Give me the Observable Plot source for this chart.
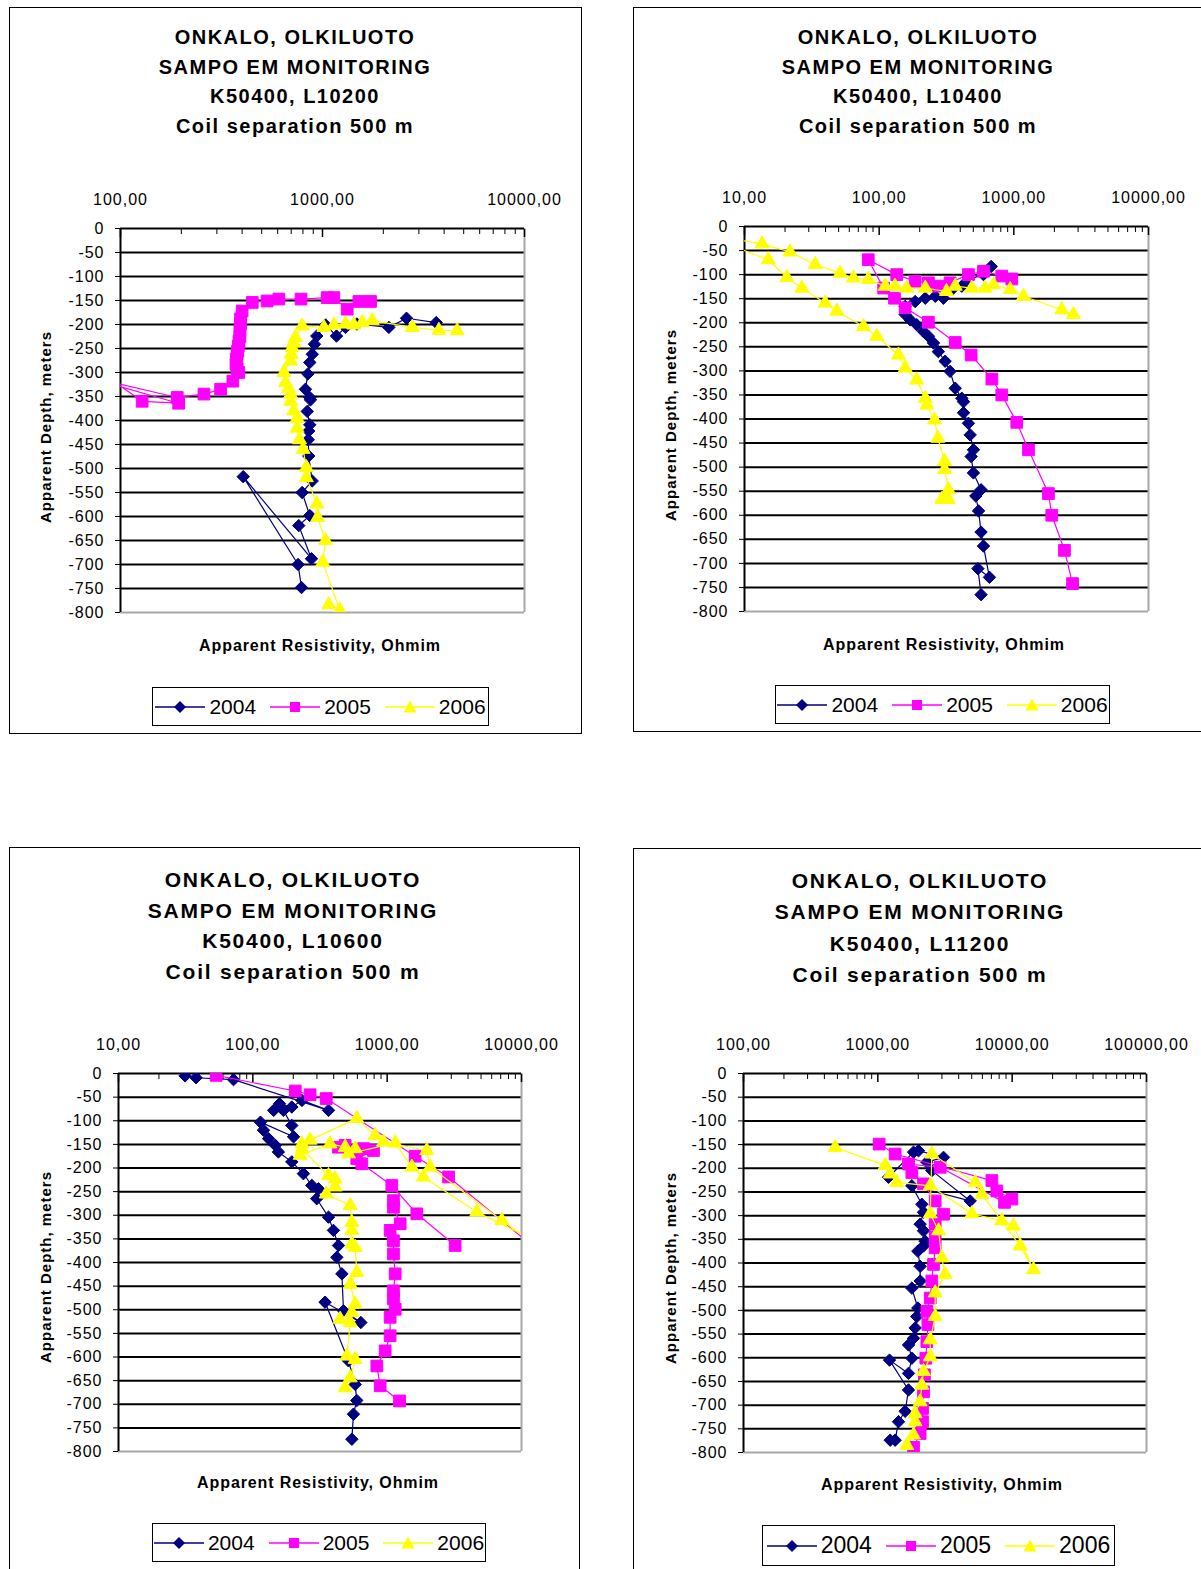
<!DOCTYPE html>
<html><head><meta charset="utf-8">
<script src="https://cdn.jsdelivr.net/npm/d3@7"></script>
<script src="https://cdn.jsdelivr.net/npm/@observablehq/plot@0.6"></script>
<style>
html,body{margin:0;padding:0;background:#fff;}
body{width:1201px;height:1569px;position:relative;overflow:hidden;font-family:"Liberation Sans",Arial,sans-serif;color:#000;}
.box{position:absolute;border:1.5px solid #000;box-sizing:border-box;}
.title{position:absolute;transform:translateX(-50%);text-align:center;font-weight:bold;white-space:nowrap;}
.xlab{position:absolute;transform:translate(-50%,-50%);font-weight:bold;font-size:16px;letter-spacing:0.9px;white-space:nowrap;}
.ylab{position:absolute;transform:translate(-50%,-50%) rotate(-90deg);font-weight:bold;font-size:15px;letter-spacing:1px;white-space:nowrap;}
.legend{position:absolute;border:1.5px solid #000;box-sizing:border-box;display:flex;align-items:center;justify-content:center;gap:2px;background:#fff;}
.legend span{margin-right:12px;}
.plot{position:absolute;}
.plot svg text{letter-spacing:1px;}
</style>
</head><body>
<script>
// ---------- DATA ----------
const YEARS = ["2004", "2005", "2006"];
const TITLE_LINE1 = "ONKALO, OLKILUOTO";
const TITLE_LINE2 = "SAMPO EM MONITORING";
const TITLE_LINE4 = "Coil separation 500 m";
const PROFILES = ["K50400, L10200", "K50400, L10400", "K50400, L10600", "K50400, L11200"];
const X_TITLE = "Apparent Resistivity, Ohmim";
const Y_TITLE = "Apparent Depth, meters";
const Y_TICKS = [0,-50,-100,-150,-200,-250,-300,-350,-400,-450,-500,-550,-600,-650,-700,-750,-800];
const X_DOMAINS = [[100,10000],[10,10000],[10,10000],[100,100000]];
const X_TICK_LABELS = [
  ["100,00","1000,00","10000,00"],
  ["10,00","100,00","1000,00","10000,00"],
  ["10,00","100,00","1000,00","10000,00"],
  ["100,00","1000,00","10000,00","100000,00"]
];

// [resistivity, depth]; null = break in the line
const L10200_2004 = [[3656,-196],[2606,-187],[2130,-206],[1480,-199],[1300,-206],[1173,-224],[1035,-201],[937,-224],[912,-241],[890,-262],[865,-279],[846,-303],[823,-335],[865,-352],[872,-357],[840,-381],[865,-409],[855,-422],[850,-440],[855,-474],[889,-526],[793,-550],[865,-598],[763,-619],[882,-688],[405,-517],[757,-700],[787,-748]];
const L10200_2005 = [[1729,-152],[1514,-152],[1325,-168],[1138,-144],[1055,-144],[783,-147],[608,-147],[532,-151],[449,-154],[400,-172],[393,-188],[393,-199],[390,-212],[390,-225],[386,-235],[383,-245],[380,-255],[378,-262],[375,-272],[373,-283],[378,-292],[385,-300],[360,-318],[313,-335],[259,-345],[191,-352],[55,-299],[194,-364],[128,-360],[55,-252]];
const L10200_2006 = [[4640,-213],[3767,-212],[2780,-206],[1762,-192],[1572,-196],[1429,-201],[1300,-199],[1138,-201],[1016,-206],[793,-203],[734,-227],[720,-238],[707,-248],[700,-262],[695,-276],[644,-300],[656,-321],[680,-333],[695,-345],[695,-360],[720,-380],[749,-395],[749,-416],[770,-440],[802,-460],[832,-498],[832,-519],[940,-574],[946,-602],[1035,-650],[1003,-695],[1218,-795],[1074,-784]];

const L10400_2004 = [[679,-83],[595,-100],[460,-110],[411,-124],[347,-131],[300,-149],[261,-145],[220,-149],[185,-156],[156,-166],[156,-183],[170,-194],[190,-204],[213,-218],[232,-228],[253,-242],[275,-260],[309,-280],[336,-301],[367,-336],[411,-357],[423,-364],[423,-387],[460,-409],[474,-433],[501,-464],[482,-478],[501,-512],[571,-547],[522,-560],[547,-591],[571,-635],[595,-664],[659,-729],[541,-711],[571,-765]];
const L10400_2005 = [[966,-109],[814,-103],[595,-93],[460,-100],[336,-117],[275,-124],[232,-117],[185,-114],[135,-100],[83,-69],[108,-128],[130,-149],[156,-169],[232,-199],[367,-241],[482,-267],[687,-317],[814,-350],[1052,-407],[1285,-464],[1807,-555],[1914,-600],[2377,-673],[2729,-742]];
const L10400_2006 = [[327,-567],[292,-567],[327,-547],[306,-505],[306,-488],[273,-440],[258,-402],[226,-371],[220,-357],[190,-319],[156,-294],[139,-267],[96,-228],[76.5,-208],[48.5,-176],[39.7,-159],[26.7,-128],[20.6,-106],[15,-69],[7,-33],[7,-23],[13.5,-36],[21.8,-53],[33.5,-79],[51.3,-97],[64.4,-107],[83,-110],[111,-124],[131,-124],[160,-128],[220,-128],[316,-135],[367,-124],[487,-128],[612,-128],[706,-121],[940,-131],[1180,-145],[2270,-173],[2773,-183]];

const L10600_2004 = [[31.3,-5],[37.8,-9],[71.8,-13],[366,-78],[232,-57],[195,-71],[158,-64],[143,-78],[169,-78],[195,-110],[201,-134],[114,-103],[120,-120],[131,-138],[147,-152],[155,-166],[195,-187],[238,-212],[275,-237],[308,-244],[299,-265],[366,-304],[398,-332],[434,-364],[422,-389],[460,-424],[473,-502],[637,-527],[345,-484],[515,-608],[578,-658],[594,-692],[561,-721],[546,-774]];
const L10600_2005 = [[53.3,-4],[207,-37],[267,-45],[352,-53],[1616,-175],[2864,-219],[14000,-380],null,[434,-156],[487,-152],[667,-159],[791,-163],[594,-180],[647,-191],[1083,-237],[1663,-297],[3207,-364],null,[1114,-269],[1114,-283],[1250,-318],[1052,-332],[1114,-354],[1114,-382],[1148,-424],[1114,-460],[1114,-477],[1148,-499],[1052,-516],[1052,-555],[966,-587],[838,-619],[887,-661],[1236,-693]];
const L10600_2006 = [[232,-149],[594,-95],[814,-131],[940,-145],[1973,-163],[2089,-198],[7140,-311],[14000,-370],null,[225,-173],[376,-149],[487,-156],[578,-159],[515,-170],[1148,-147],[1527,-198],[1862,-219],[4648,-293],[14000,-360],null,[267,-141],[232,-160],[366,-216],[410,-223],[410,-240],[352,-255],[531,-279],[546,-315],[546,-332],[546,-361],[578,-368],[594,-421],[531,-446],[578,-488],[546,-506],[447,-520],[531,-527],[501,-598],[578,-605],[531,-644],[487,-665]];

const L11200_2004 = [[1200,-219],[1844,-166],[2009,-163],[3083,-177],[2317,-187],[2523,-205],[4868,-269],[1791,-237],[2126,-276],[2188,-293],[2066,-318],[2188,-332],[2251,-354],[2188,-364],[1985,-375],[2066,-407],[2066,-438],[1791,-453],[1985,-495],[1950,-513],[1896,-537],[1844,-559],[1692,-573],[1791,-601],[1692,-633],[1222,-605],[1692,-668],[1597,-713],[1425,-735],[1346,-774],[1236,-774]];
const L11200_2005 = [[1023,-149],[1346,-170],[7063,-226],[7691,-248],[9954,-265],[8770,-272],[2911,-198],[1692,-191],[1791,-209],[2188,-233],[2673,-269],[3083,-297],[2673,-318],[2673,-345],[2673,-368],[2597,-403],[2523,-438],[2455,-474],[2317,-502],[2359,-530],[2317,-566],[2277,-601],[2223,-636],[2188,-672],[2151,-707],[2151,-735],[2066,-760],[1844,-789]];
const L11200_2006 = [[481,-156],[1135,-194],[1236,-212],[1384,-230],[2455,-237],[5012,-296],[8375,-311],[10233,-322],[14421,-414],[11482,-364],[5943,-255],[5309,-230],[2523,-170],[2455,-296],[2831,-332],[2992,-389],[3170,-424],[2673,-463],[2673,-513],[2455,-562],[2455,-598],[2188,-629],[2126,-658],[2066,-693],[1896,-718],[1896,-735],[1844,-763],[1644,-785]];

const SERIES = [
  [L10200_2004, L10200_2005, L10200_2006],
  [L10400_2004, L10400_2005, L10400_2006],
  [L10600_2004, L10600_2005, L10600_2006],
  [L11200_2004, L11200_2005, L11200_2006]
];

// ---------- STYLE / LAYOUT ----------
const COLORS = ["#000080", "#FF00FF", "#FFFF00"];
const SYMBOLS = ["diamond2", "square", "triangle"];
const SYM_R = [5.6, 6.6, 5.2];
const LAYOUT = [
  {box:[9,7,573,727], tcx:295, ttop:23, tlh:29.7, tfs:20, tls:1.5, left:120, right:524, top:228, bottom:612, xl:[320,646], yl:[45,427], lg:[152,687,337,39], lfs:21},
  {box:[633,7,600,725], tcx:918, ttop:23, tlh:29.7, tfs:20, tls:1.5, left:744, right:1148, top:226, bottom:611, xl:[944,645], yl:[670,425], lg:[775,685,335,39], lfs:21},
  {box:[9,847,571,800], tcx:293, ttop:865, tlh:30.7, tfs:21, tls:1.8, left:118, right:521, top:1073, bottom:1451, xl:[318,1483], yl:[45,1267], lg:[152,1523,334,39], lfs:21},
  {box:[633,848,600,800], tcx:920, ttop:865, tlh:31.3, tfs:21, tls:1.8, left:743, right:1146, top:1073, bottom:1452, xl:[942,1485], yl:[670,1268], lg:[762,1525,353,41], lfs:23}
];

function el(tag, cls, css, html) {
  const e = document.createElement(tag);
  if (cls) e.className = cls;
  Object.assign(e.style, css);
  if (html != null) e.innerHTML = html;
  document.body.appendChild(e);
  return e;
}

function legendSwatch(i) {
  const c = COLORS[i];
  let m;
  if (i === 0) m = `<path d="M25,4 L31,10 L25,16 L19,10 Z" fill="${c}"/>`;
  else if (i === 1) m = `<rect x="20" y="5" width="10" height="10" fill="${c}"/>`;
  else m = `<path d="M25,3.5 L31.5,15.5 L18.5,15.5 Z" fill="${c}"/>`;
  return `<svg width="50" height="20" style="margin-right:2px"><line x1="0" x2="50" y1="10" y2="10" stroke="${c}" stroke-width="1.5"/>${m}</svg>`;
}

function makePlot(k) {
  const L = LAYOUT[k];
  const mL = 64, mR = 16, mT = 50, mB = 14;
  const pw = L.right - L.left, ph = L.bottom - L.top;
  const [d0, d1] = X_DOMAINS[k];
  const e0 = Math.round(Math.log10(d0)), e1 = Math.round(Math.log10(d1));
  const decades = d3.range(e0, e1 + 1).map(e => Math.pow(10, e));
  const minor = [];
  decades.slice(0, -1).forEach(v => { for (let j = 2; j <= 9; j++) minor.push(v * j); });
  const labels = X_TICK_LABELS[k];
  const marks = [
    Plot.gridY(Y_TICKS.filter(t => t !== 0 && t !== -800), {stroke: "#000", strokeOpacity: 1, strokeWidth: 2}),
    Plot.ruleX([d1], {stroke: "#a8a8a8", strokeWidth: 2}),
    Plot.ruleY([-800], {stroke: "#a8a8a8", strokeWidth: 2}),
    Plot.axisX({anchor: "top", label: null, ticks: minor, tickSize: -5, tickFormat: () => "", stroke: "#000"}),
    Plot.axisX({anchor: "top", label: null, ticks: decades, tickSize: -8, tickFormat: () => "", stroke: "#000", strokeWidth: 1.5}),
    Plot.axisX({anchor: "top", label: null, ticks: decades, tickSize: 0, tickPadding: 24, fontSize: 16, fill: "#000",
      tickFormat: d => labels[Math.round(Math.log10(d)) - e0]}),
    Plot.axisY({anchor: "left", label: null, ticks: Y_TICKS, tickSize: 5, tickPadding: 11, fontSize: 16, fill: "#000", stroke: "#000",
      tickFormat: d => String(d)}),
    Plot.ruleX([d0], {stroke: "#000", strokeWidth: 2}),
    Plot.ruleY([0], {stroke: "#000", strokeWidth: 2})
  ];
  SERIES[k].forEach((s, i) => {
    const rows = s.map(p => p ? {x: p[0], y: p[1]} : {x: NaN, y: NaN});
    marks.push(Plot.line(rows, {x: "x", y: "y", stroke: COLORS[i], strokeWidth: 1.2, clip: true}));
    marks.push(Plot.dot(rows.filter(r => !isNaN(r.x)), {x: "x", y: "y", symbol: SYMBOLS[i], r: SYM_R[i],
      fill: COLORS[i], stroke: COLORS[i], strokeWidth: 1, clip: true}));
  });
  const svg = Plot.plot({
    width: pw + mL + mR, height: ph + mT + mB,
    marginLeft: mL, marginRight: mR, marginTop: mT, marginBottom: mB,
    x: {type: "log", domain: [d0, d1], axis: null},
    y: {domain: [-800, 0], axis: null},
    style: {fontFamily: "'Liberation Sans', Arial, sans-serif", color: "#000", background: "transparent", overflow: "visible"},
    marks
  });
  const holder = el("div", "plot", {left: (L.left - mL) + "px", top: (L.top - mT) + "px"});
  holder.appendChild(svg);
}

LAYOUT.forEach((L, k) => {
  el("div", "box", {left: L.box[0] + "px", top: L.box[1] + "px", width: L.box[2] + "px", height: L.box[3] + "px"});
  el("div", "title", {left: L.tcx + "px", top: L.ttop + "px", fontSize: L.tfs + "px", lineHeight: L.tlh + "px", letterSpacing: L.tls + "px"},
    [TITLE_LINE1, TITLE_LINE2, PROFILES[k], TITLE_LINE4].join("<br>"));
  makePlot(k);
  el("div", "xlab", {left: L.xl[0] + "px", top: L.xl[1] + "px"}, X_TITLE);
  el("div", "ylab", {left: L.yl[0] + "px", top: L.yl[1] + "px"}, Y_TITLE);
  el("div", "legend", {left: L.lg[0] + "px", top: L.lg[1] + "px", width: L.lg[2] + "px", height: L.lg[3] + "px", fontSize: L.lfs + "px"},
    YEARS.map((y, i) => legendSwatch(i) + `<span${i === 2 ? ' style="margin-right:0"' : ''}>${y}</span>`).join(""));
});
</script>
</body></html>
